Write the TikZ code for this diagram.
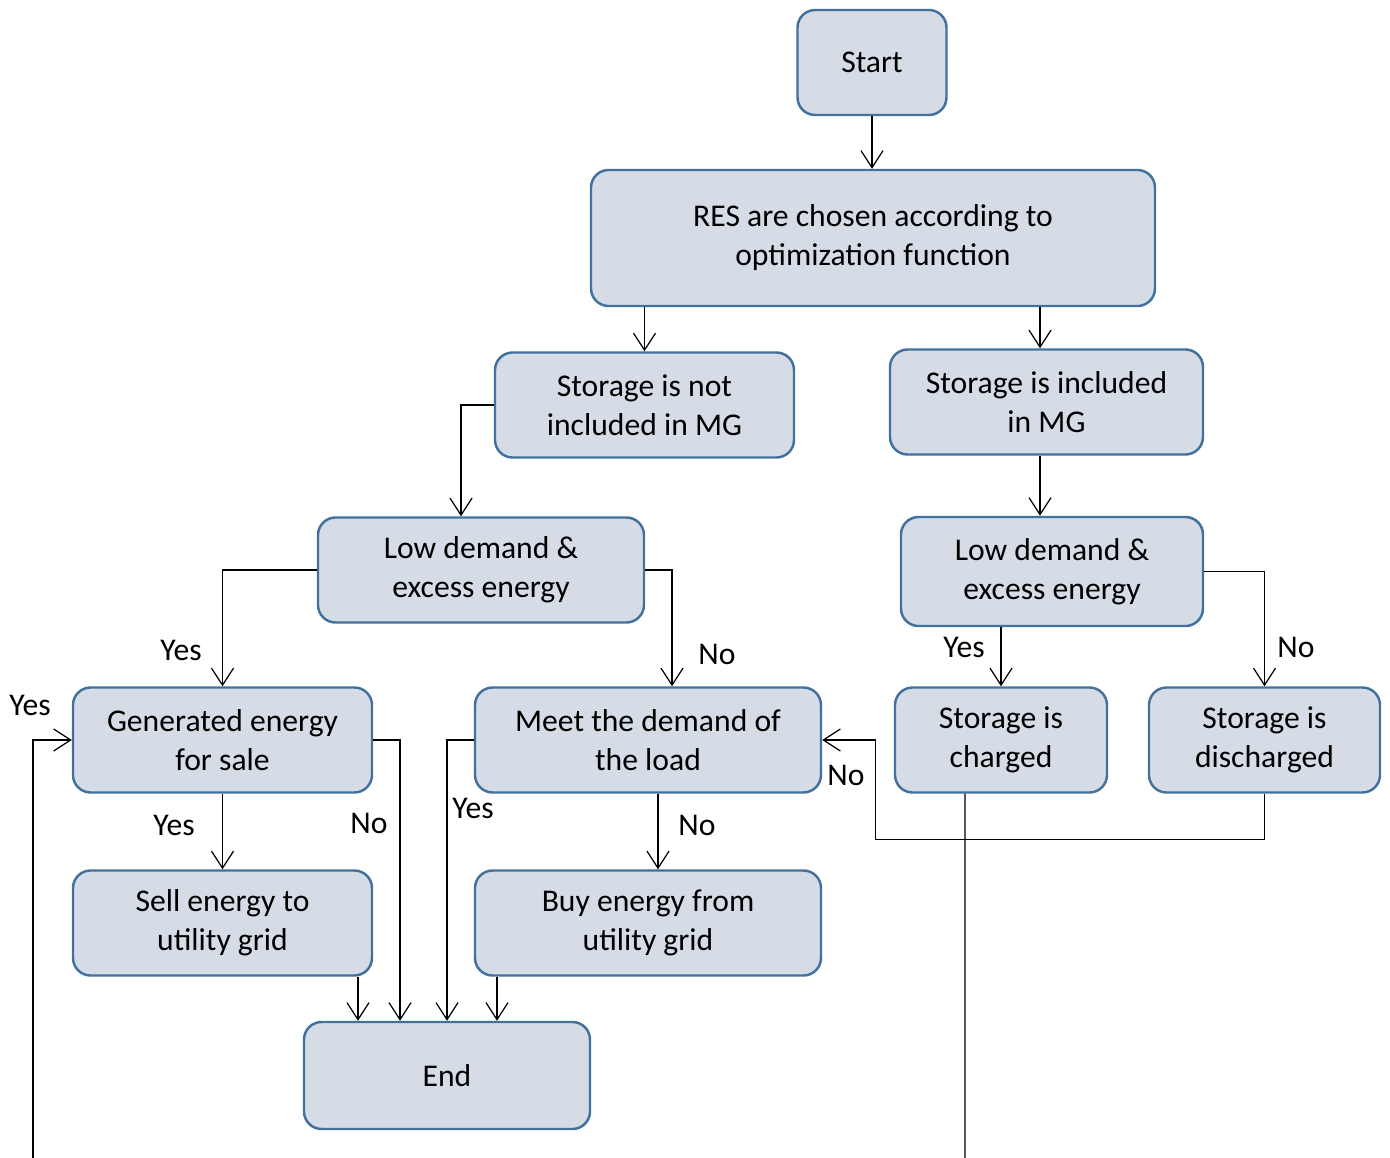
\documentclass[tikz,border=0pt]{standalone}
\usepackage{fontspec}
\setmainfont{Carlito}
\usetikzlibrary{arrows.meta}
\definecolor{boxfill}{HTML}{D6DCE5}
\definecolor{boxline}{HTML}{41719C}
\begin{document}
\begin{tikzpicture}[
  box/.style={rectangle, draw=boxline, fill=boxfill, line width=1.4pt, rounded corners=10pt,
    minimum width=#1, minimum height=2.1cm, align=center, font=\fontsize{18}{22.2}\selectfont},
  lbl/.style={font=\fontsize{18}{22.2}\selectfont},
  line/.style={draw, line width=0.7pt},
  arr/.style={line, -{Straight Barb[length=0.34cm, width=0.44cm]}}
]
\useasboundingbox (0,0) rectangle (27.8,-23.16);
\node[box=2.98cm] (start) at (17.44,-1.25) {Start};
\node[box=11.28cm, minimum height=2.72cm] (res) at (17.46,-4.76) {RES are chosen according to\\optimization function};
\node[box=5.98cm] (sni) at (12.89,-8.10) {Storage is not\\included in MG};
\node[box=6.26cm] (si) at (20.93,-8.04) {Storage is included\\in MG};
\node[box=6.52cm] (ldl) at (9.62,-11.40) {Low demand \&\\excess energy};
\node[box=6.04cm, minimum height=2.18cm] (ldr) at (21.04,-11.43) {Low demand \&\\excess energy};
\node[box=5.98cm] (gen) at (4.45,-14.80) {Generated energy\\for sale};
\node[box=6.92cm] (meet) at (12.96,-14.80) {Meet the demand of\\the load};
\node[box=4.24cm] (chg) at (20.02,-14.80) {Storage is\\charged};
\node[box=4.62cm] (dis) at (25.29,-14.80) {Storage is\\discharged};
\node[box=5.98cm] (sell) at (4.45,-18.46) {Sell energy to\\utility grid};
\node[box=6.92cm] (buy) at (12.96,-18.46) {Buy energy from\\utility grid};
\node[box=5.72cm, minimum height=2.14cm] (end) at (8.94,-21.51) {End};
\coordinate (genin) at (0.66,-23.16);
\coordinate (chgout) at (19.30,-23.16);
\node[lbl] (y1) at (3.62,-13.0) {Yes};
\node[lbl] (n1) at (14.34,-13.08) {No};
\node[lbl] (y2) at (19.28,-12.94) {Yes};
\node[lbl] (n2) at (25.92,-12.94) {No};
\node[lbl] (y3) at (0.6,-14.1) {Yes};
\node[lbl] (y4) at (3.48,-16.5) {Yes};
\node[lbl] (n3) at (7.38,-16.46) {No};
\node[lbl] (y5) at (9.46,-16.16) {Yes};
\node[lbl] (n4) at (13.94,-16.5) {No};
\node[lbl] (n5) at (16.92,-15.5) {No};
\draw[arr] (start.south) -- (start.south |- res.north);
\draw[arr] (res.south -| sni.north) -- (sni.north);
\draw[arr] ([xshift=-1.3mm]si.north |- res.south) -- ([xshift=-1.3mm]si.north);
\draw[arr] ([xshift=-1.3mm]si.south) -- ([xshift=-1.3mm]si.south |- ldr.north);
\draw[arr] (sni.west) -| ([xshift=-4mm]ldl.north);
\draw[arr] (ldl.west) -| (gen.north);
\draw[arr] (ldl.east) -| ([xshift=4.8mm]meet.north);
\draw[arr] (ldr.south -| chg.north) -- (chg.north);
\draw[arr] (ldr.east) -| (dis.north);
\draw[arr] (dis.south) -- ++(0,-0.92) -| ([xshift=1.06cm]meet.east) -- (meet.east);
\draw[line] ([xshift=-7.2mm]chg.south) -- (chgout);
\draw[arr] (genin) |- (gen.west);
\draw[arr] (gen.south) -- (sell.north);
\draw[arr] (gen.east) -| ([xshift=-9.4mm]end.north);
\draw[arr] ([xshift=-1.78cm]end.north |- sell.south) -- ([xshift=-1.78cm]end.north);
\draw[arr] (meet.west) -| (end.north);
\draw[arr] ([xshift=2mm]meet.south) -- ([xshift=2mm]buy.north);
\draw[arr] ([xshift=1cm]end.north |- buy.south) -- ([xshift=1cm]end.north);
\end{tikzpicture}
\end{document}
